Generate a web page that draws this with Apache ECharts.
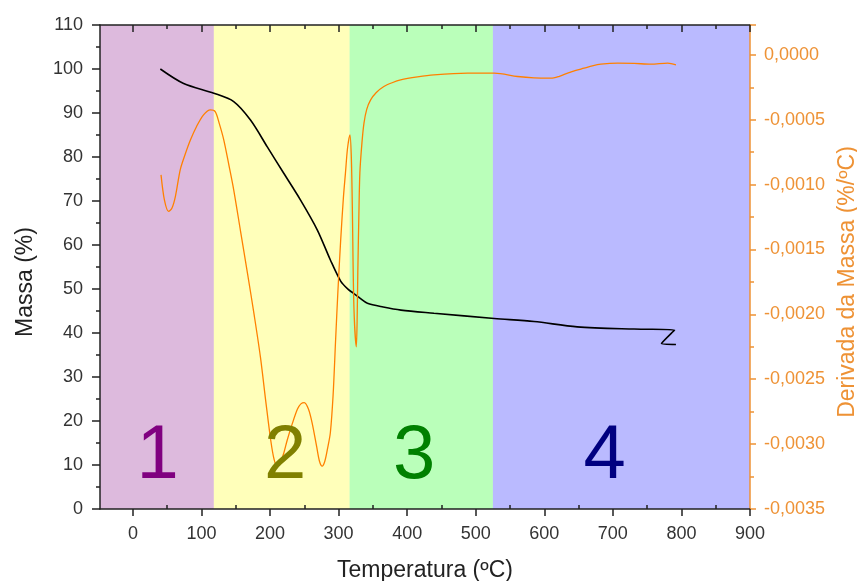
<!DOCTYPE html>
<html>
<head>
<meta charset="utf-8">
<script src="https://cdn.jsdelivr.net/npm/echarts@6/dist/echarts.min.js"></script>
<style>html,body{margin:0;padding:0;background:#fff}#c{width:857px;height:581px}</style>
</head>
<body>
<div id="c"></div>
<script>
// Mass (TG) curve: temperature (ºC) and mass (%)
var tgTemp = [40, 74, 118, 147, 171.5, 196, 220, 244.5, 269, 288, 303, 314, 322, 332, 342, 365, 391, 439, 527, 585, 648, 731, 790, 771, 792];
var tgMass = [100, 96.7, 94.5, 92.6, 88.4, 82.3, 76.3, 70.2, 63.4, 56.6, 51.8, 49.9, 49.0, 47.8, 46.75, 45.9, 45.2, 44.5, 43.3, 42.6, 41.4, 40.9, 40.7, 37.6, 37.4];

// Derivative (DTG) curve: temperature (ºC) and derivative (%/ºC)
var dtgTemp = [41, 46, 52, 57, 62, 69, 76, 84, 93, 103, 113, 120, 126, 132.5, 140, 147, 157, 167, 177, 186, 194, 201, 206, 210.5, 215, 220, 225, 232, 240, 245, 250, 256, 261.5, 268, 272, 276, 280, 284, 288, 292, 295.6, 299, 303, 307, 310, 313, 316.5, 318.5, 320, 322.3, 325.8, 327, 328, 329.5, 331, 334, 337, 341, 346.7, 355, 366, 378, 390.5, 415, 439, 488, 527, 561, 585, 609.5, 622, 634, 646, 658, 670, 682.5, 707, 731, 755.5, 780, 792];
var dtgVal = [-0.000925, -0.00112, -0.001207, -0.00118, -0.00109, -0.000886, -0.00077, -0.000655, -0.00055, -0.000462, -0.000424, -0.000437, -0.00053, -0.000655, -0.00085, -0.00104, -0.00136, -0.00168, -0.00201, -0.00233, -0.00268, -0.00297, -0.00312, -0.00317, -0.00314, -0.00307, -0.00297, -0.00285, -0.00273, -0.00269, -0.00268, -0.00273, -0.00284, -0.00302, -0.00313, -0.00317, -0.00313, -0.00303, -0.00291, -0.00262, -0.0022, -0.00182, -0.00143, -0.00110, -0.00091, -0.00072, -0.000616, -0.00078, -0.00117, -0.00194, -0.00225, -0.00205, -0.00168, -0.00125, -0.00091, -0.00068, -0.000526, -0.00042, -0.000347, -0.00029, -0.000244, -0.000215, -0.000193, -0.00017, -0.000154, -0.000141, -0.000141, -0.000167, -0.000178, -0.00018, -0.000165, -0.000141, -0.00012, -0.000103, -0.000085, -0.000072, -0.000064, -0.000066, -0.000072, -0.000064, -0.000077];

// Temperature regions (ºC) and their labels
var regionStart = [-48, 118, 316, 525];
var regionEnd = [118, 316, 525, 900];
var regionNames = ['1', '2', '3', '4'];
var regionLabelTemp = [36, 222, 410, 688];
var regionLabelMass = [11.8, 11.8, 11.8, 11.8];

// Tick labels
var xMajorTicks = [0, 100, 200, 300, 400, 500, 600, 700, 800, 900];
var xMinorTicks = [50, 150, 250, 350, 450, 550, 650, 750, 850];

var regionFill = ['rgba(128,0,128,0.27)', 'rgba(255,255,0,0.27)', 'rgba(0,255,0,0.27)', 'rgba(0,0,255,0.27)'];
var regionText = ['#800080', '#808000', '#008000', '#000080'];
var orange = '#ee9235';
var font = 'Liberation Sans, Arial, sans-serif';

function zip(a, b) { return a.map(function (v, i) { return [v, b[i]]; }); }

var chart = echarts.init(document.getElementById('c'), null, { renderer: 'canvas' });

var xBase = {
  type: 'value', min: -48, max: 900, z: 10,
  splitLine: { show: false }
};

var option = {
  animation: false,
  backgroundColor: '#ffffff',
  grid: { left: 100, right: 107, top: 25, bottom: 72, containLabel: false, outerBoundsMode: 'none' },
  xAxis: [
    Object.assign({}, xBase, {
      position: 'bottom',
      name: 'Temperatura (ºC)', nameLocation: 'middle', nameGap: 50,
      nameTextStyle: { fontFamily: font, fontSize: 23, color: '#222' },
      axisLine: { show: true, onZero: false, lineStyle: { color: '#222', width: 1.5 } },
      axisTick: { show: true, inside: false, length: 7, customValues: xMajorTicks, lineStyle: { color: '#222', width: 1.5 } },
      axisLabel: { show: true, customValues: xMajorTicks, margin: 16, fontFamily: font, fontSize: 18, color: '#333' }
    }),
    Object.assign({}, xBase, {
      position: 'bottom',
      axisLine: { show: false, onZero: false },
      axisTick: { show: true, inside: true, length: 4, customValues: xMinorTicks, lineStyle: { color: '#222', width: 1.5 } },
      axisLabel: { show: false }
    }),
    Object.assign({}, xBase, {
      position: 'top',
      axisLine: { show: true, onZero: false, lineStyle: { color: '#222', width: 1.5 } },
      axisTick: { show: true, inside: true, length: 7, customValues: xMajorTicks, lineStyle: { color: '#222', width: 1.5 } },
      axisLabel: { show: false }
    }),
    Object.assign({}, xBase, {
      position: 'top',
      axisLine: { show: false, onZero: false },
      axisTick: { show: true, inside: true, length: 4, customValues: xMinorTicks, lineStyle: { color: '#222', width: 1.5 } },
      axisLabel: { show: false }
    })
  ],
  yAxis: [
    {
      type: 'value', position: 'left', min: 0, max: 110, interval: 10, z: 10,
      name: 'Massa (%)', nameLocation: 'middle', nameGap: 63, nameRotate: 90,
      nameTextStyle: { fontFamily: font, fontSize: 23, color: '#222', padding: [0, 30, 0, 0] },
      axisLine: { show: true, onZero: false, lineStyle: { color: '#222', width: 1.5 } },
      axisTick: { show: true, inside: false, length: 8, lineStyle: { color: '#222', width: 1.5 } },
      minorTick: { show: true, splitNumber: 2, length: 4, lineStyle: { color: '#222', width: 1.5 } },
      axisLabel: { margin: 17, fontFamily: font, fontSize: 18, color: '#333' },
      splitLine: { show: false }
    },
    {
      type: 'value', position: 'right', min: -0.0035, max: 0.00023, interval: 0.0005, z: 10,
      name: 'Derivada da Massa (%/ºC)', nameLocation: 'middle', nameGap: 85, nameRotate: 90,
      nameTextStyle: { fontFamily: font, fontSize: 23, color: orange, padding: [0, 30, 0, 0] },
      axisLine: { show: true, onZero: false, lineStyle: { color: orange, width: 1.5 } },
      axisTick: { show: true, inside: false, length: 6, lineStyle: { color: orange, width: 1.5 } },
      minorTick: { show: true, splitNumber: 2, length: 4, lineStyle: { color: orange, width: 1.5 } },
      axisLabel: {
        margin: 14, fontFamily: font, fontSize: 18, color: orange, showMaxLabel: false,
        formatter: function (v) {
          if (v > 0.0001) return '';
          var s = Math.abs(v) < 1e-9 ? '0.0000' : v.toFixed(4);
          return s.replace('.', ',');
        }
      },
      splitLine: { show: false }
    }
  ],
  series: [
    {
      name: 'TG', type: 'line', xAxisIndex: 0, yAxisIndex: 0, z: 2,
      data: zip(tgTemp, tgMass), showSymbol: false, smooth: 0.3,
      lineStyle: { color: '#000000', width: 1.6 }
    },
    {
      name: 'DTG', type: 'line', xAxisIndex: 0, yAxisIndex: 1, z: 2,
      data: zip(dtgTemp, dtgVal), showSymbol: false, smooth: 0.3,
      lineStyle: { color: '#ff8000', width: 1.3 }
    },
    {
      name: 'regions', type: 'line', xAxisIndex: 0, yAxisIndex: 0, z: 5,
      data: [], silent: true,
      markArea: {
        silent: true,
        data: regionStart.map(function (s, i) {
          return [{ xAxis: s, itemStyle: { color: regionFill[i] } }, { xAxis: regionEnd[i] }];
        })
      }
    },
    {
      name: 'labels', type: 'scatter', xAxisIndex: 0, yAxisIndex: 0, z: 20, zlevel: 1,
      symbolSize: 0, silent: true,
      itemStyle: { opacity: 1 },
      data: regionNames.map(function (n, i) {
        return { name: n, value: [regionLabelTemp[i], regionLabelMass[i]], label: { color: regionText[i] } };
      }),
      label: {
        show: true, position: 'inside', formatter: '{b}',
        fontFamily: font, fontSize: 76, verticalAlign: 'middle', align: 'center'
      }
    }
  ]
};
chart.setOption(option);
</script>
</body>
</html>
